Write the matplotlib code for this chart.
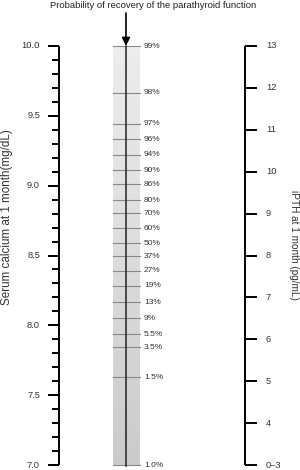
import numpy as np
import matplotlib
matplotlib.use("Agg")
import matplotlib.pyplot as plt

plt.rcParams['font.family'] = ['Liberation Sans', 'DejaVu Sans']

# Data
calcium_major = [7.0, 7.5, 8.0, 8.5, 9.0, 9.5, 10.0]
calcium_labels = ["7.0", "7.5", "8.0", "8.5", "9.0", "9.5", "10.0"]
calcium_minor = [round(7.0 + 0.1 * i, 1) for i in range(31)]
ipth_values = [3, 4, 5, 6, 7, 8, 9, 10, 11, 12, 13]
ipth_labels = ["0\u20133", "4", "5", "6", "7", "8", "9", "10", "11", "12", "13"]
prob_labels = ["99%", "98%", "97%", "96%", "94%", "90%", "86%", "80%", "70%", "60%",
               "50%", "37%", "27%", "19%", "13%", "9%", "5.5%", "3.5%", "1.5%", "1.0%"]
# position of each probability on the common (serum calcium) scale
prob_pos = [10.0, 9.666, 9.442, 9.332, 9.220, 9.112, 9.010, 8.897, 8.802, 8.695,
            8.586, 8.496, 8.391, 8.282, 8.167, 8.050, 7.936, 7.843, 7.628, 7.0]

def ipth_to_scale(v):
    return 7.0 + (v - 3) * 0.3

PX = 139.67  # pixels per calcium unit

fig = plt.figure(figsize=(3.0, 4.7), dpi=100)
ax = fig.add_axes([0, 0, 1, 1])
ax.set_xlim(0, 300)
ax.set_ylim(10 - 424 / PX, 10 + 46 / PX)
ax.axis('off')

lw = 1.4
# Left axis
xL = 59
ax.plot([xL, xL], [7.0, 10.0], color='black', lw=lw, solid_capstyle='butt')
for v in calcium_minor:
    ax.plot([52, xL], [v, v], color='black', lw=lw, solid_capstyle='butt')
for v, t in zip(calcium_major, calcium_labels):
    ax.plot([48, xL], [v, v], color='black', lw=lw, solid_capstyle='butt')
    ax.text(40, v, t, ha='right', va='center', fontsize=6.7, color='#333333')
ax.text(7, 8.776, "Serum calcium at 1 month(mg/dL)", rotation=90, ha='center', va='center',
        fontsize=8.4, color='#333333')

# Right axis
xR = 245
ax.plot([xR, xR], [7.0, 10.0], color='black', lw=lw, solid_capstyle='butt')
for v, t in zip(ipth_values, ipth_labels):
    y = ipth_to_scale(v)
    ax.plot([xR, 257], [y, y], color='black', lw=lw, solid_capstyle='butt')
    ax.text(266, y, t, ha='left', va='center', fontsize=6.7, color='#333333')
ax.text(294, 8.575, "iPTH at 1 month (pg/mL)", rotation=-90, ha='center', va='center',
        fontsize=7.2, color='#333333')

# Middle probability bar
grad = np.linspace(0, 1, 256).reshape(-1, 1)
cmap = matplotlib.colors.LinearSegmentedColormap.from_list('g', ['#cbcbcb', '#ededed'])
ax.imshow(grad, extent=[113, 140, 6.993, 10.0], origin='lower', cmap=cmap, aspect='auto', zorder=1)
for p, t in zip(prob_pos, prob_labels):
    ax.plot([113, 140], [p, p], color='#888888', lw=0.8, zorder=2)
    ax.text(144, p, t, ha='left', va='center', fontsize=6, color='#333333')
ax.plot([126, 126], [6.993, 10.0], color='#222222', lw=1.1, zorder=3)

# Arrow and title
ax.annotate("", xy=(126, 10.0), xytext=(126, 10 + 33 / PX),
            arrowprops=dict(arrowstyle='-|>', color='black', lw=1.2, mutation_scale=12,
                            shrinkA=0, shrinkB=0), zorder=4)
ax.text(153, 10 + 41 / PX, "Probability of recovery of the parathyroid function",
        ha='center', va='center', fontsize=6.8, color='#222222')

fig.savefig("out.png", dpi=100)
